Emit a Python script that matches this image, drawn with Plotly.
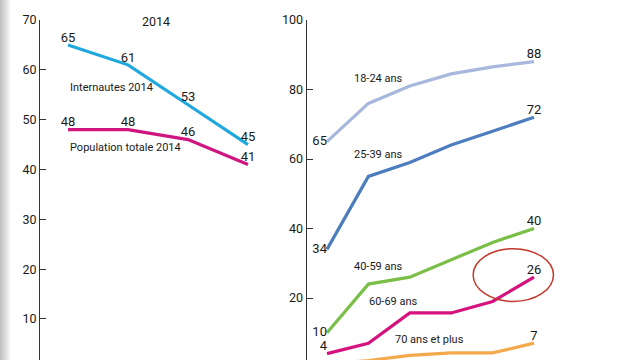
import plotly.graph_objects as go

# ---- Data ----
left_idx = [0, 1, 2, 3]
internautes_2014 = [65, 61, 53, 45]
population_2014 = [48, 48, 46, 41]

right_idx = [0, 1, 2, 3, 4, 5]
age_18_24 = [65, 76, 81, 84.5, 86.5, 88]
age_25_39 = [34, 55, 59, 64, 68, 72]
age_40_59 = [10, 24, 26, 31, 36, 40]
age_60_69 = [4, 7, 15.7, 15.7, 19, 26]
age_70_plus = [1, 2, 3.5, 4.2, 4.2, 7]

left_ticks = [10, 20, 30, 40, 50, 60, 70]
right_ticks = [20, 40, 60, 80, 100]

FONT = "Roboto, Liberation Sans, sans-serif"
TXT = "#1a1a1a"

fig = go.Figure()

def lbl_all(vals):
    return [f"{v:g}" for v in vals]

# Left panel
fig.add_trace(go.Scatter(x=left_idx, y=internautes_2014, mode="lines+text",
                         line=dict(color="#1fa8dd", width=3.2),
                         text=lbl_all(internautes_2014), textposition="top center",
                         textfont=dict(family=FONT, size=13, color=TXT),
                         xaxis="x", yaxis="y", cliponaxis=False))
fig.add_trace(go.Scatter(x=left_idx, y=population_2014, mode="lines+text",
                         line=dict(color="#cf1580", width=3.2),
                         text=lbl_all(population_2014), textposition="top center",
                         textfont=dict(family=FONT, size=13, color=TXT),
                         xaxis="x", yaxis="y", cliponaxis=False))

# Right panel
right_series = [
    (age_18_24, "#a8b8dc", "middle left"),
    (age_25_39, "#4d7dbd", "middle left"),
    (age_40_59, "#7bbf48", "middle left"),
    (age_60_69, "#d5127e", "top left"),
    (age_70_plus, "#f4aa4c", "middle left"),
]
for vals, col, firstpos in right_series:
    n = len(vals)
    text = [f"{vals[0]:g}"] + [""] * (n - 2) + [f"{vals[-1]:g}"]
    pos = [firstpos] + ["top center"] * (n - 1)
    fig.add_trace(go.Scatter(x=right_idx, y=vals, mode="lines+text",
                             line=dict(color=col, width=3.2),
                             text=text, textposition=pos,
                             textfont=dict(family=FONT, size=13, color=TXT),
                             xaxis="x2", yaxis="y2", cliponaxis=False))

top_frac = 1 - 20 / 360
axis_common = dict(showgrid=False, zeroline=False, showline=True, linecolor="#333",
                   linewidth=1, ticks="inside", ticklen=6, tickcolor="#333",
                   automargin=False,
                   tickfont=dict(family=FONT, size=12.5, color=TXT))

fig.update_layout(
    width=640, height=360,
    margin=dict(l=0, r=0, t=0, b=0, autoexpand=False),
    paper_bgcolor="white", plot_bgcolor="white",
    showlegend=False,
    xaxis=dict(domain=[40 / 640, 290 / 640], range=[-0.467, 3.7], visible=False,
               automargin=False),
    yaxis=dict(domain=[0, top_frac], range=[1.77, 70], tickvals=left_ticks, anchor="x",
               **axis_common),
    xaxis2=dict(domain=[306.5 / 640, 1], range=[-0.495, 7.56], visible=False,
                automargin=False),
    yaxis2=dict(domain=[0, top_frac], range=[2.16, 100], tickvals=right_ticks, anchor="x2",
                **axis_common),
)

# Series labels
def ann(x, y, text, xref, yref, xanchor="left"):
    fig.add_annotation(x=x, y=y, xref=xref, yref=yref, text=text, showarrow=False,
                       xanchor=xanchor, yanchor="middle",
                       font=dict(family=FONT, size=11, color=TXT))

ann(left_idx[0], 56.5, "Internautes 2014", "x", "y")
ann(left_idx[0], 44.5, "Population totale 2014", "x", "y")
ann(0.6, 83.3, "18-24 ans", "x2", "y2")
ann(0.6, 61.2, "25-39 ans", "x2", "y2")
ann(0.6, 29, "40-59 ans", "x2", "y2")
ann(0.97, 19.1, "60-69 ans", "x2", "y2")
ann(1.6, 8.1, "70 ans et plus", "x2", "y2")

# Title
fig.add_annotation(x=156 / 640, y=1 - 21 / 360, xref="paper", yref="paper", text="2014",
                   showarrow=False, xanchor="center", yanchor="middle",
                   font=dict(family=FONT, size=12.5, color=TXT))

# Red highlight circle around last 60-69 point
last_x = right_idx[-1]
last_v = age_60_69[-1]
fig.add_shape(type="circle", xref="x2", yref="y2",
              x0=last_x - 1.47, x1=last_x + 0.47, y0=last_v - 7, y1=last_v + 8.2,
              line=dict(color="#c0392b", width=1.5))

# Left grey edge strip
greys = ["#c4c4c4", "#cfcfcf", "#dadada", "#e6e6e6", "#f1f1f1"]
for i, g in enumerate(greys):
    fig.add_shape(type="rect", xref="paper", yref="paper",
                  x0=(i * 2) / 640, x1=(i * 2 + 2) / 640, y0=0, y1=1,
                  line=dict(width=0), fillcolor=g, layer="below")

post = """
document.documentElement.style.margin='0';
document.body.style.margin='0';
document.body.style.overflow='hidden';
"""
fig.write_html("out.html", post_script=post, config={"displayModeBar": False})
